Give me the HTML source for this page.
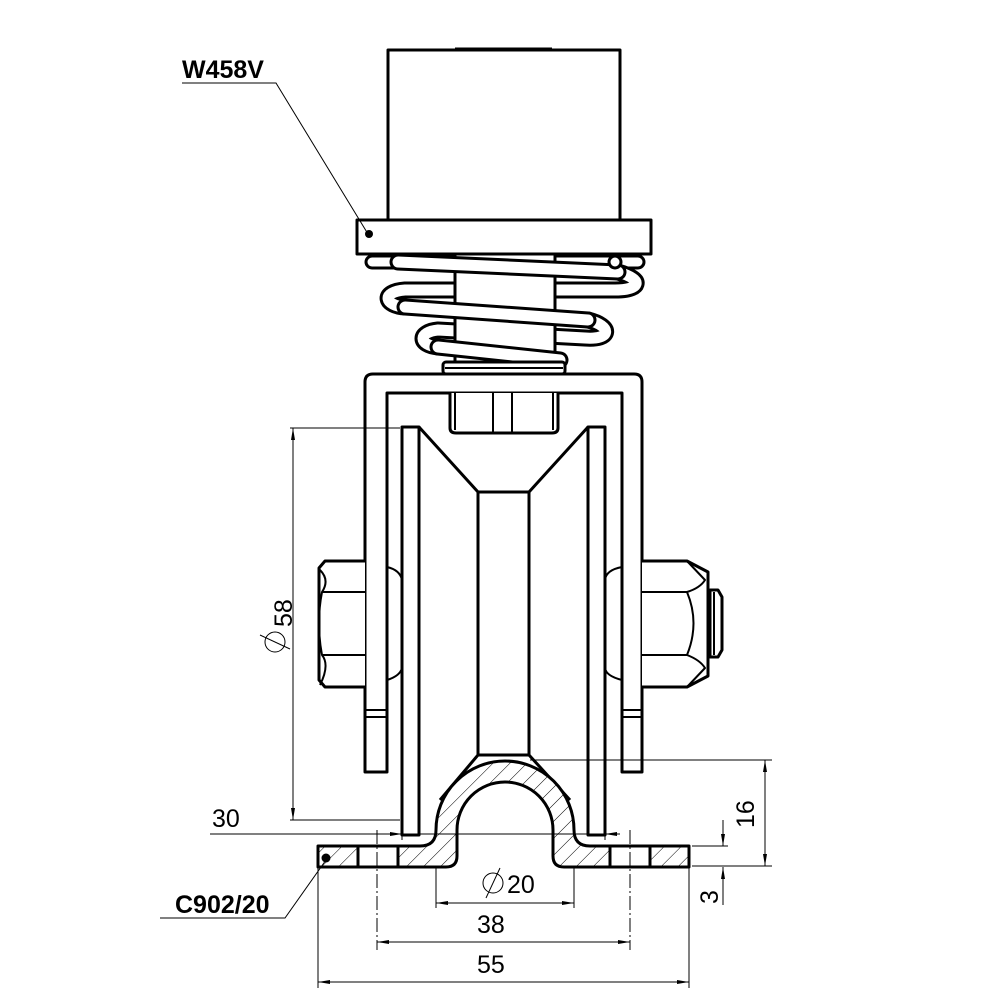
<!DOCTYPE html>
<html><head><meta charset="utf-8"><style>html,body{margin:0;padding:0;background:#fff}svg{display:block}</style></head>
<body>
<svg width="1000" height="1000" viewBox="0 0 1000 1000" xmlns="http://www.w3.org/2000/svg" font-family="Liberation Sans, sans-serif">
<defs>
<pattern id="h" patternUnits="userSpaceOnUse" width="12" height="12" patternTransform="rotate(45)">
<rect width="12" height="12" fill="#fff"/><line x1="0" y1="0" x2="0" y2="12" stroke="#000" stroke-width="1"/>
</pattern>
<marker id="a" viewBox="0 0 12 6" refX="12" refY="3" markerWidth="12" markerHeight="6" orient="auto-start-reverse" markerUnits="userSpaceOnUse"><path d="M0,1 L12,3 L0,5 Z" fill="#000"/></marker>
</defs>
<g fill="none" stroke="#000" stroke-width="3" stroke-linejoin="round">
<rect x="388" y="50" width="232" height="170" fill="#fff"/>
<line x1="455" y1="49" x2="552" y2="49"/>
<rect x="357" y="220" width="294" height="34" fill="#fff"/>
</g>
<g fill="none" stroke-linecap="round" stroke-linejoin="round">
<path d="M372,262 H638" stroke="#000" stroke-width="15"/>
<path d="M372,262 H638" stroke="#fff" stroke-width="9"/>
<path d="M618,272 C645,280 640,290 615,290 L405,290 C380,292 385,306 405,307 M588,320 C612,326 612,340 585,338 L438,330 C418,332 418,345 438,347" stroke="#000" stroke-width="17"/>
<path d="M618,272 C645,280 640,290 615,290 L405,290 C380,292 385,306 405,307 M588,320 C612,326 612,340 585,338 L438,330 C418,332 418,345 438,347" stroke="#fff" stroke-width="11"/>
</g>
<rect x="455" y="254" width="100" height="110" fill="#fff" stroke="#000" stroke-width="3"/>
<g fill="none" stroke-linecap="round" stroke-linejoin="round">
<path d="M398,262 L618,272 M405,307 L588,320 M438,347 L560,360" stroke="#000" stroke-width="17"/>
<path d="M398,262 L618,272 M405,307 L588,320 M438,347 L560,360" stroke="#fff" stroke-width="11"/>
</g>
<circle cx="615" cy="262" r="6" fill="#fff" stroke="#000" stroke-width="3"/>
<g fill="none" stroke="#000" stroke-width="3" stroke-linejoin="round">
<rect x="443" y="362" width="122" height="12" rx="3" fill="#fff"/>
<line x1="445" y1="368" x2="563" y2="368" stroke-width="2"/>
<path d="M365,772 V382 Q365,374 373,374 H634 Q642,374 642,382 V772 H622 V393 H387 V772 Z" fill="#fff"/>
<line x1="365" y1="710" x2="387" y2="710" stroke-width="2"/><line x1="365" y1="717" x2="387" y2="717" stroke-width="2"/>
<line x1="622" y1="710" x2="642" y2="710" stroke-width="2"/><line x1="622" y1="717" x2="642" y2="717" stroke-width="2"/>
<path d="M450,393 V428 Q450,433 456,433 H552 Q558,433 558,428 V393" fill="#fff"/>
<path d="M455,393 V430 M493,393 V432 M512,393 V432 M553,393 V430" stroke-width="2"/>
<path d="M365,561 H325 L319,568 V680 L325,687 H365" fill="#fff"/>
<path d="M322,592 H365 M322,655 H365 M320,570 Q330,580 322,592 Q316,623 322,655 Q330,665 320,685" stroke-width="2"/>
<path d="M642,561 H687 L708,572 V676 L687,687 H642" fill="#fff"/>
<path d="M642,592 H687 M642,655 H687 M687,592 Q700,623 687,655 M687,561 L705,580 Q700,588 687,592 M687,687 L705,668 Q700,660 687,655" stroke-width="2"/>
<path d="M710,590 H718 L722,597 V650 L718,657 H710 Z" fill="#fff"/>
<line x1="714" y1="592" x2="714" y2="655" stroke-width="2"/>
<path d="M387,567 Q400,570 402,580 M387,680 Q400,676 402,668 M622,567 Q606,570 605,580 M622,680 Q606,676 605,668" stroke-width="2"/>
<rect x="402" y="427" width="17" height="408" fill="#fff"/>
<rect x="588" y="427" width="17" height="408" fill="#fff"/>
<path d="M419,427 L478,492 H529 L588,427"/>
<rect x="478" y="492" width="51" height="263" fill="#fff"/>
<path d="M478,755 L440,800 M529,755 L570,800"/>
<path d="M318,846 H420 Q436,846 436,830 A69,69 0 0 1 574,830 Q574,846 590,846 H689 V867 H564 Q553,867 553,856 V830 A48,48 0 0 0 457,830 V856 Q457,867 446,867 H318 Z" fill="url(#h)"/>
<rect x="358" y="846" width="40" height="21" fill="#fff"/>
<rect x="610" y="846" width="40" height="21" fill="#fff"/>
</g>
<circle cx="369" cy="234" r="4" fill="#000"/>
<circle cx="326" cy="858" r="4.5" fill="#000"/>
<g stroke="#000" stroke-width="1" fill="none">
<path d="M182,83 H276 L368,234"/>
<path d="M326,860 L285,918 H160"/>
<path d="M377,830 V950 M630,830 V950" stroke-dasharray="14,3,2,3"/>
<path d="M290,428 H400 M290,820 H400"/>
<line x1="293" y1="428" x2="293" y2="820" marker-start="url(#a)" marker-end="url(#a)"/>
<line x1="210" y1="834" x2="605" y2="834"/>
<path d="M402,822 V840 M605,822 V840"/>
<line x1="385" y1="834" x2="402" y2="834" marker-end="url(#a)"/>
<line x1="620" y1="834" x2="605" y2="834" marker-end="url(#a)"/>
<path d="M530,760 H772 M692,866 H772 M692,846 H728"/>
<line x1="765" y1="760" x2="765" y2="866" marker-start="url(#a)" marker-end="url(#a)"/>
<line x1="723" y1="820" x2="723" y2="846" marker-end="url(#a)"/>
<line x1="723" y1="905" x2="723" y2="867" marker-end="url(#a)"/>
<path d="M436,868 V908 M574,868 V908"/>
<line x1="436" y1="903" x2="574" y2="903" marker-start="url(#a)" marker-end="url(#a)"/>
<line x1="377" y1="942" x2="630" y2="942" marker-start="url(#a)" marker-end="url(#a)"/>
<path d="M318,868 V988 M689,868 V988"/>
<line x1="318" y1="982" x2="689" y2="982" marker-start="url(#a)" marker-end="url(#a)"/>
<circle cx="493" cy="883" r="10"/><line x1="486" y1="898" x2="500" y2="868"/>
<circle cx="275" cy="642" r="10"/><line x1="260" y1="635" x2="290" y2="649"/>
</g>
<g font-size="25" fill="#000">
<text x="182" y="78" font-weight="bold">W458V</text>
<text x="175" y="913" font-weight="bold">C902/20</text>
<text x="212" y="827">30</text>
<text x="507" y="893">20</text>
<text x="477" y="933">38</text>
<text x="477" y="973">55</text>
<text transform="translate(292,627) rotate(-90)">58</text>
<text transform="translate(754,828) rotate(-90)">16</text>
<text transform="translate(718,904) rotate(-90)">3</text>
</g>
</svg>
</body></html>
